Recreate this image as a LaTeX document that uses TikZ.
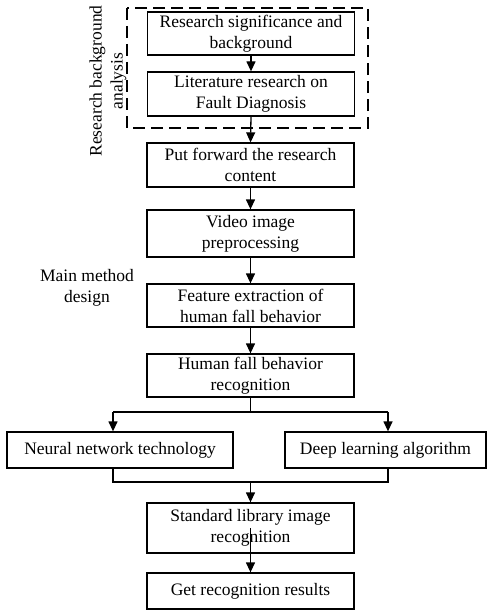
\documentclass[tikz,border=0pt]{standalone}
\usepackage{fontspec}
\setmainfont{Liberation Serif}
\usetikzlibrary{arrows.meta}
\begin{document}
\begin{tikzpicture}[x=1pt,y=-1pt,
  box/.style={draw, line width=1.3pt, minimum width=207pt, align=center, inner sep=0pt,
    font=\fontsize{17.5}{21}\selectfont},
  arr/.style={line width=1.3pt, -{Triangle[length=10pt,width=9pt]}},
  ln/.style={line width=1.3pt},
  lbl/.style={align=center, font=\fontsize{17.5}{21}\selectfont, inner sep=0pt}]
\useasboundingbox (0,0) rectangle (487,610);
\node[box, minimum height=43pt] (b1) at (251,33.5) {Research significance and\\background};
\node[box, minimum height=44pt] (b2) at (251,94) {Literature research on\\Fault Diagnosis};
\draw[line width=1.5pt, dash pattern=on 12pt off 6pt] (127,8) rectangle (368,128);
\node[box, minimum height=44pt] (b3) at (250.5,165) {Put forward the research\\content};
\node[box, minimum height=47pt] (b4) at (250.5,233.5) {Video image\\preprocessing};
\node[box, minimum height=43pt] (b5) at (250.5,305.5) {Feature extraction of\\human fall behavior};
\node[box, minimum height=43pt] (b6) at (250.5,375.5) {Human fall behavior\\recognition};
\node[box, minimum width=226pt, minimum height=36pt] (nn) at (120,450) {Neural network technology};
\node[box, minimum width=201pt, minimum height=36pt] (dl) at (385.5,450) {Deep learning algorithm};
\node[box, minimum height=50pt] (b7) at (250.5,528) {Standard library image\\recognition};
\node[box, minimum height=36pt] (b8) at (250.5,591) {Get recognition results};
\node[lbl, rotate=90] (rba) at (108,81) {Research background\\analysis};
\node[lbl] (mmd) at (87,288) {Main method\\design};
\coordinate (sL) at (113,412);
\coordinate (sR) at (388,412);
\coordinate (mL) at (113,482);
\coordinate (mR) at (388,482);
\draw[arr] (b1.south) -- (b2.north);
\draw[arr] (b2.south) -- (b3.north);
\draw[arr] (b3.south) -- (b4.north);
\draw[arr] (b4.south) -- (b5.north);
\draw[arr] (b5.south) -- (b6.north);
\draw[ln] (b6.south) -- (b6.south |- sL);
\draw[ln] (sL) -- (sR);
\draw[arr] (sL) -- (sL |- nn.north);
\draw[arr] (sR) -- (sR |- dl.north);
\draw[ln] (mL |- nn.south) -- (mL) -- (mR) -- (mR |- dl.south);
\draw[arr] (b7.north |- mL) -- (b7.north);
\draw[arr] (b7.center) -- (b8.north);
\end{tikzpicture}
\end{document}
